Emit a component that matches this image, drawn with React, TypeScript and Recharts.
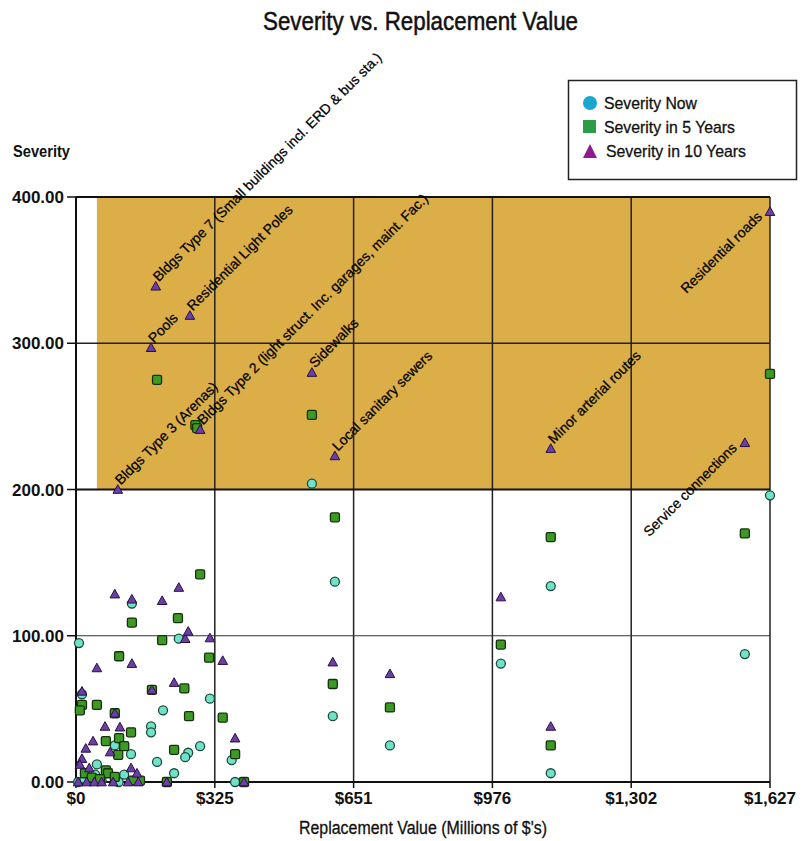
import React from "react";
import {
  ScatterChart,
  Scatter,
  XAxis,
  YAxis,
  ReferenceArea,
  ReferenceLine,
} from "recharts";

const xTicks = [0, 325.4, 650.8, 976.2, 1301.6, 1627];
const xTickLabels = ["$0", "$325", "$651", "$976", "$1,302", "$1,627"];
const yTicks = [0, 100, 200, 300, 400];

const severityNow = [
  { x: 7, y: 95 }, { x: 131, y: 122 }, { x: 241, y: 98 }, { x: 14, y: 60 },
  { x: 314, y: 57 }, { x: 204, y: 49 }, { x: 176, y: 38 }, { x: 176, y: 34 },
  { x: 91, y: 25 }, { x: 129, y: 19 }, { x: 263, y: 20 }, { x: 256, y: 17 },
  { x: 291, y: 24.5 }, { x: 190, y: 13.7 }, { x: 230, y: 6 }, { x: 365, y: 15 },
  { x: 373, y: 0 }, { x: 49, y: 12 }, { x: 113, y: 5 }, { x: 45, y: 5 },
  { x: 553, y: 204 }, { x: 607, y: 137 }, { x: 1113, y: 134 }, { x: 1627, y: 196 },
  { x: 1568, y: 87.5 }, { x: 1113, y: 6 }, { x: 996, y: 81 }, { x: 736, y: 25 },
  { x: 602, y: 45 }, { x: 5, y: 0 }, { x: 20, y: 2 }, { x: 60, y: 1 },
  { x: 100, y: 0 }, { x: 140, y: 1 },
];

const severity5 = [
  { x: 190, y: 275 }, { x: 280, y: 244 }, { x: 284, y: 242 }, { x: 553, y: 251 },
  { x: 607, y: 181 }, { x: 1113, y: 167.5 }, { x: 1627, y: 279 }, { x: 1568, y: 170 },
  { x: 1113, y: 25 }, { x: 996, y: 94 }, { x: 736, y: 51 }, { x: 602, y: 67 },
  { x: 291, y: 142 }, { x: 131, y: 109 }, { x: 239, y: 112 }, { x: 202, y: 97 },
  { x: 312, y: 85 }, { x: 101, y: 86 }, { x: 14, y: 52.7 }, { x: 9, y: 49 },
  { x: 49, y: 52.7 }, { x: 178, y: 63 }, { x: 254, y: 64 }, { x: 265, y: 45 },
  { x: 344, y: 44 }, { x: 91, y: 47 }, { x: 129, y: 34 }, { x: 101, y: 30 },
  { x: 70, y: 28 }, { x: 113, y: 24.5 }, { x: 99, y: 18.5 }, { x: 230, y: 22 },
  { x: 373, y: 19 }, { x: 394, y: 0 }, { x: 213, y: 0 }, { x: 70, y: 8 },
  { x: 75, y: 6 }, { x: 150, y: 1 }, { x: 134, y: 1 }, { x: 21, y: 6 },
  { x: 37, y: 3 }, { x: 56, y: 2 }, { x: 91, y: 3.5 },
];

const severity10 = [
  { x: 187, y: 339, label: "Bldgs Type 7 (Small buildings incl. ERD & bus sta.)" },
  { x: 267, y: 319, label: "Residential Light Poles" },
  { x: 176, y: 297, label: "Pools" },
  { x: 98, y: 200, label: "Bldgs Type 3 (Arenas)" },
  { x: 291, y: 241, label: "Bldgs Type 2 (light struct. Inc. garages, maint. Fac.)" },
  { x: 553, y: 280, label: "Sidewalks" },
  { x: 607, y: 223, label: "Local sanitary sewers" },
  { x: 1113, y: 228, label: "Minor arterial routes" },
  { x: 1627, y: 390, label: "Residential roads", end: true },
  { x: 1568, y: 232, label: "Service connections", end: true },
  { x: 1113, y: 38 }, { x: 996, y: 126.5 }, { x: 736, y: 74 }, { x: 602, y: 82 },
  { x: 91, y: 128.5 }, { x: 131, y: 125 }, { x: 202, y: 124 }, { x: 241, y: 133 },
  { x: 256, y: 98 }, { x: 263, y: 103 }, { x: 314, y: 98.5 }, { x: 344, y: 83 },
  { x: 131, y: 81 }, { x: 49, y: 78 }, { x: 14, y: 62 }, { x: 178, y: 63 },
  { x: 230, y: 68 }, { x: 91, y: 47 }, { x: 68, y: 38 }, { x: 103, y: 37.5 },
  { x: 40, y: 28 }, { x: 23, y: 23 }, { x: 80, y: 20.5 }, { x: 373, y: 30 },
  { x: 394, y: 0 }, { x: 213, y: 0 }, { x: 5, y: 0 }, { x: 25, y: 0 },
  { x: 43, y: 0 }, { x: 60, y: 0 }, { x: 87, y: 0 }, { x: 122, y: 0 },
  { x: 146, y: 0 }, { x: 14, y: 16 }, { x: 9, y: 12 }, { x: 31, y: 9.6 },
  { x: 129, y: 9.6 }, { x: 143, y: 6 },
];

const FONT = "'Liberation Sans', Arial, sans-serif";

const CircleShape = (props: any) => {
  const { cx, cy } = props;
  if (cx == null || cy == null) return null;
  return <circle cx={cx} cy={cy} r={4.5} fill="#6fe3c8" stroke="#1d4a3c" strokeWidth={1.3} />;
};

const SquareShape = (props: any) => {
  const { cx, cy } = props;
  if (cx == null || cy == null) return null;
  return <rect x={cx - 4.5} y={cy - 4.5} width={9} height={9} rx={1.5} fill="#3c9a22" stroke="#15300c" strokeWidth={1.3} />;
};

const TriangleShape = (props: any) => {
  const { cx, cy, payload } = props;
  if (cx == null || cy == null) return null;
  const s = 4.8;
  const label = payload && payload.label;
  const end = payload && payload.end;
  const tx = end ? cx - 7 : cx + 3;
  const ty = end ? cy + 6 : cy - 4;
  return (
    <g>
      <path
        d={`M${cx},${cy - s} L${cx + s},${cy + s * 0.8} L${cx - s},${cy + s * 0.8} Z`}
        fill="#6a3fa6"
        stroke="#2a1040"
        strokeWidth={1}
      />
      {label ? (
        <text
          x={tx}
          y={ty}
          transform={`rotate(-45 ${tx} ${ty})`}
          textAnchor={end ? "end" : "start"}
          fontFamily={FONT}
          fontSize={14}
          fill="#000"
          stroke="#000"
          strokeWidth={0.25}
        >
          {label}
        </text>
      ) : null}
    </g>
  );
};

const Overlay = () => (
  <svg
    width={806}
    height={841}
    style={{ position: "absolute", left: 0, top: 0, pointerEvents: "none" }}
  >
    <text x={263} y={30} fontFamily={FONT} fontSize={25} fill="#111" stroke="#111" strokeWidth={0.5}
      textLength={315} lengthAdjust="spacingAndGlyphs">
      Severity vs. Replacement Value
    </text>
    <text x={13} y={157} fontFamily={FONT} fontSize={17} fontWeight="bold" fill="#111"
      textLength={57} lengthAdjust="spacingAndGlyphs">
      Severity
    </text>
    <text x={299} y={834} fontFamily={FONT} fontSize={18} fill="#111" stroke="#111" strokeWidth={0.3}
      textLength={248} lengthAdjust="spacingAndGlyphs">
      Replacement Value (Millions of $'s)
    </text>
    <rect x={568.5} y={80.5} width={228} height={99} fill="#fff" stroke="#222" strokeWidth={1.5} />
    <circle cx={590} cy={103} r={7} fill="#19a6cf" />
    <rect x={583} y={120} width={13} height={13} fill="#2c9c48" />
    <path d="M590,144 L597,158 L583,158 Z" fill="#8e1a8c" />
    <text x={604} y={109} fontFamily={FONT} fontSize={17} fill="#111" stroke="#111" strokeWidth={0.3}
      textLength={93} lengthAdjust="spacingAndGlyphs">Severity Now</text>
    <text x={604} y={133} fontFamily={FONT} fontSize={17} fill="#111" stroke="#111" strokeWidth={0.3}
      textLength={131} lengthAdjust="spacingAndGlyphs">Severity in 5 Years</text>
    <text x={606} y={157} fontFamily={FONT} fontSize={17} fill="#111" stroke="#111" strokeWidth={0.3}
      textLength={140} lengthAdjust="spacingAndGlyphs">Severity in 10 Years</text>
  </svg>
);

export default function App() {
  return (
    <div style={{ position: "absolute", left: 0, top: 0, width: 806, height: 841, background: "#fff" }}>
      <div style={{ position: "absolute", left: 0, top: 0 }}>
        <ScatterChart width={806} height={841} margin={{ top: 197, right: 36, bottom: 29, left: 0 }}>
          <ReferenceArea x1={49} x2={1627} y1={200} y2={400} fill="#dbae48" fillOpacity={1} stroke="none" />
          {xTicks.slice(1).map((t) => (
            <ReferenceLine key={"vx" + t} x={t} stroke="#222" strokeWidth={1.5} />
          ))}
          <ReferenceLine y={100} stroke="#333" strokeWidth={1.2} />
          <ReferenceLine y={300} stroke="#222" strokeWidth={1.5} />
          <ReferenceLine y={200} stroke="#111" strokeWidth={2.2} />
          <ReferenceLine y={400} stroke="#111" strokeWidth={2.2} />
          <XAxis
            type="number"
            dataKey="x"
            domain={[0, 1627]}
            ticks={xTicks}
            interval={0}
            height={30}
            tickSize={6}
            tickMargin={4}
            axisLine={{ stroke: "#111", strokeWidth: 2 }}
            tickLine={{ stroke: "#111", strokeWidth: 1.5 }}
            tick={{ fill: "#111", fontFamily: FONT, fontSize: 17, fontWeight: "bold" }}
            tickFormatter={(v: number) => xTickLabels[xTicks.indexOf(v)] ?? ""}
          />
          <YAxis
            type="number"
            dataKey="y"
            domain={[0, 400]}
            ticks={yTicks}
            interval={0}
            width={76}
            tickSize={9}
            tickMargin={3}
            axisLine={{ stroke: "#111", strokeWidth: 2 }}
            tickLine={{ stroke: "#111", strokeWidth: 1.5 }}
            tick={{ fill: "#111", fontFamily: FONT, fontSize: 17, fontWeight: "bold" }}
            tickFormatter={(v: number) => v.toFixed(2)}
          />
          <Scatter name="Severity Now" data={severityNow} shape={CircleShape} isAnimationActive={false} />
          <Scatter name="Severity in 5 Years" data={severity5} shape={SquareShape} isAnimationActive={false} />
          <Scatter name="Severity in 10 Years" data={severity10} shape={TriangleShape} isAnimationActive={false} />
        </ScatterChart>
      </div>
      <Overlay />
    </div>
  );
}
